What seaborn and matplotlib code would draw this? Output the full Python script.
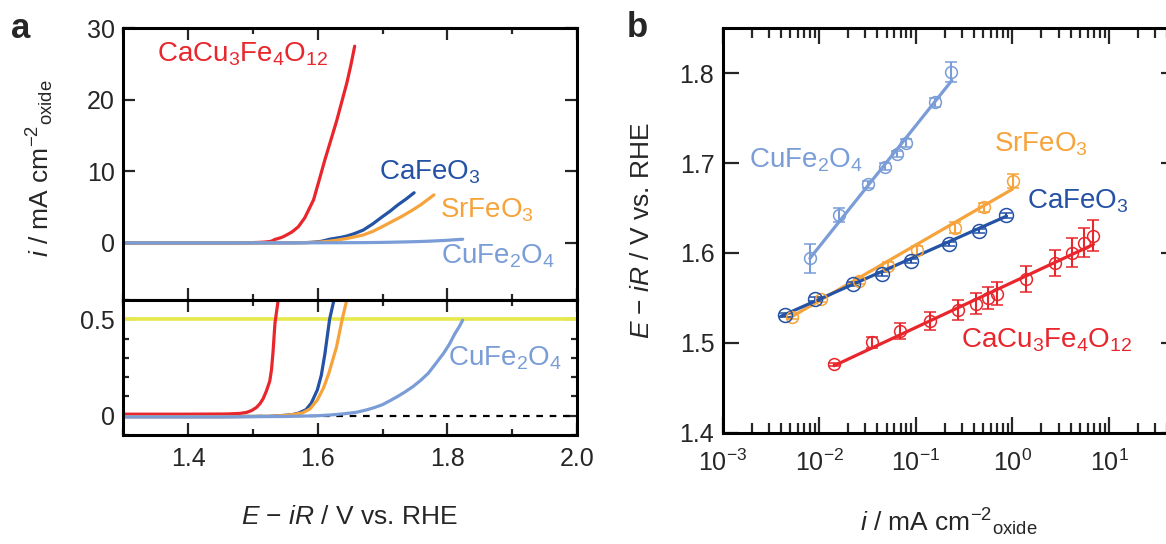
import numpy as np
import pandas as pd
import seaborn as sns
import matplotlib.pyplot as plt
from matplotlib.ticker import MultipleLocator, LogLocator, NullFormatter, FixedLocator, FixedFormatter

# ---------------- Panel a: polarisation curves ----------------
# potential E - iR (V vs. RHE) and current i (mA cm-2 oxide)
ccfo_E = [1.30, 1.40, 1.46, 1.480, 1.490, 1.498, 1.5055, 1.511, 1.516, 1.521, 1.526, 1.5287,
          1.531, 1.534, 1.539, 1.545, 1.550, 1.560, 1.570, 1.580, 1.5935, 1.602, 1.611, 1.620,
          1.629, 1.637, 1.645, 1.651, 1.657]
ccfo_i = [0.008, 0.008, 0.009, 0.012, 0.017, 0.027, 0.043, 0.063, 0.09, 0.13, 0.18, 0.24,
          0.33, 0.48, 0.6, 0.78, 1.0, 1.5, 2.24, 3.5, 6.0, 8.7, 11.6, 14.3,
          17.0, 19.7, 22.4, 24.8, 27.5]

cfo_E = [1.30, 1.45, 1.53, 1.560, 1.570, 1.5818, 1.590, 1.5994, 1.6055, 1.611, 1.6183, 1.625,
         1.635, 1.645, 1.657, 1.6702, 1.685, 1.6997, 1.712, 1.7233, 1.736, 1.7487]
cfo_i = [-0.005, -0.005, -0.003, 0.005, 0.013, 0.031, 0.065, 0.134, 0.21, 0.32, 0.5, 0.6,
         0.75, 0.95, 1.3, 1.78, 2.65, 3.65, 4.45, 5.28, 6.1, 7.0]

sfo_E = [1.30, 1.45, 1.53, 1.555, 1.5759, 1.588, 1.5994, 1.609, 1.6171, 1.629, 1.6377, 1.6448,
         1.655, 1.6702, 1.685, 1.6997, 1.714, 1.7291, 1.744, 1.7587, 1.7793]
sfo_i = [-0.005, -0.005, -0.003, 0.003, 0.014, 0.035, 0.082, 0.145, 0.22, 0.357, 0.5, 0.6,
         0.8, 1.09, 1.6, 2.26, 2.95, 3.66, 4.45, 5.3, 6.7]

cufo_E = [1.30, 1.45, 1.55, 1.60, 1.62, 1.6407, 1.66, 1.6761, 1.688, 1.6997, 1.711, 1.7233,
          1.735, 1.7469, 1.759, 1.7705, 1.782, 1.794, 1.803, 1.8117, 1.818, 1.8236]
cufo_i = [-0.006, -0.006, -0.004, 0.0, 0.004, 0.01, 0.018, 0.031, 0.043, 0.057, 0.077, 0.10,
          0.124, 0.151, 0.184, 0.22, 0.27, 0.323, 0.37, 0.426, 0.46, 0.495]

# ---------------- Panel b: Tafel plots ----------------
cufo_ti = [0.0080, 0.0160, 0.0318, 0.0477, 0.0638, 0.0782, 0.158, 0.232]
cufo_tE = [1.5940, 1.6420, 1.6762, 1.6960, 1.7103, 1.7223, 1.7675, 1.8017]
cufo_err = [0.016, 0.008, 0.0035, 0.004, 0.003, 0.004, 0.005, 0.011]
cufo_fit_i = [0.0080, 0.236]
cufo_fit_E = [1.594, 1.792]

sfo_ti = [0.00522, 0.0104, 0.0260, 0.0512, 0.102, 0.256, 0.506, 1.007]
sfo_tE = [1.5292, 1.5483, 1.5687, 1.5857, 1.6032, 1.6281, 1.6511, 1.6798]
sfo_err = [0.003, 0.003, 0.003, 0.004, 0.005, 0.006, 0.005, 0.008]
sfo_fit_i = [0.0048, 1.0]
sfo_fit_E = [1.527, 1.671]

cfo_ti = [0.00441, 0.00902, 0.0225, 0.0443, 0.0895, 0.220, 0.446, 0.867]
cfo_tE = [1.5311, 1.5488, 1.5654, 1.5765, 1.5912, 1.6097, 1.6245, 1.6419]
cfo_err = [0.002, 0.002, 0.002, 0.002, 0.002, 0.002, 0.002, 0.003]
cfo_fit_i = [0.0040, 0.87]
cfo_fit_E = [1.5295, 1.641]

ccfo_ti = [0.0142, 0.0355, 0.069, 0.140, 0.275, 0.415, 0.555, 0.686, 1.38, 2.76, 4.15, 5.45, 6.83]
ccfo_tE = [1.4761, 1.5008, 1.5130, 1.5240, 1.5366, 1.5437, 1.5500, 1.5547, 1.5710, 1.5889,
           1.6004, 1.6115, 1.6194]
ccfo_err = [0.002, 0.006, 0.009, 0.010, 0.011, 0.012, 0.012, 0.013, 0.014, 0.014, 0.016, 0.016, 0.017]
ccfo_fit_i = [0.0142, 6.9]
ccfo_fit_E = [1.4745, 1.6095]

RED = '#E8262C'
BLUE = '#2452A5'
ORANGE = '#F6A33B'
LBLUE = '#7A9DD7'
YELLOW = '#E6E84C'

sns.set_theme(style='ticks')
plt.rcParams['font.family'] = ['Liberation Sans', 'DejaVu Sans']
plt.rcParams['mathtext.fontset'] = 'custom'
plt.rcParams['mathtext.rm'] = 'Liberation Sans'
plt.rcParams['mathtext.it'] = 'Liberation Sans:italic'
plt.rcParams['mathtext.bf'] = 'Liberation Sans:bold'
plt.rcParams['axes.linewidth'] = 2.2
plt.rcParams['axes.edgecolor'] = 'black'

W, H = 1166, 544
fig = plt.figure(figsize=(W / 100, H / 100), dpi=100)


def box(l, r, t, b):
    return [l / W, 1 - b / H, (r - l) / W, (b - t) / H]


ax_up = fig.add_axes(box(123.3, 577, 28.3, 300))
ax_lo = fig.add_axes(box(123.3, 577, 300, 435))
ax_b = fig.add_axes(box(722.7, 1176.5, 28.3, 432.7))

curves = [(ccfo_E, ccfo_i, RED), (cfo_E, cfo_i, BLUE), (sfo_E, sfo_i, ORANGE), (cufo_E, cufo_i, LBLUE)]

# upper panel
for E, i, c in curves:
    sns.lineplot(x=E, y=i, ax=ax_up, color=c, lw=2.3, sort=False, estimator=None)
ax_up.set_xlim(1.3, 2.0)
ax_up.set_ylim(-8, 30)
ax_up.yaxis.set_major_locator(MultipleLocator(10))
ax_up.xaxis.set_major_locator(MultipleLocator(0.2))
ax_up.xaxis.set_minor_locator(MultipleLocator(0.1))
ax_up.tick_params(axis='x', labelbottom=False)

# lower panel (zoom of the onset)
ax_lo.axhline(0.5, color=YELLOW, lw=2.6)
ax_lo.axhline(0, color='black', lw=1.6, ls=(0, (3, 3)))
for E, i, c in curves:
    sns.lineplot(x=E, y=i, ax=ax_lo, color=c, lw=2.3, sort=False, estimator=None)
ax_lo.set_xlim(1.3, 2.0)
ax_lo.set_ylim(-0.1, 0.6)
ax_lo.yaxis.set_major_locator(FixedLocator([0, 0.5]))
ax_lo.yaxis.set_major_formatter(FixedFormatter(['0', '0.5']))
ax_lo.yaxis.set_minor_locator(MultipleLocator(0.1))
ax_lo.xaxis.set_major_locator(MultipleLocator(0.2))
ax_lo.xaxis.set_minor_locator(MultipleLocator(0.1))

for ax in (ax_up, ax_lo):
    ax.tick_params(which='both', direction='in', top=True, right=True, labelsize=18, width=1.6)
    ax.tick_params(which='major', length=8.5)
    ax.tick_params(which='minor', length=4.5)
    ax.tick_params(axis='y', pad=6)
    ax.tick_params(axis='x', pad=9)
    ax.set_xlabel('')
    ax.set_ylabel('')

ax_up.set_ylabel(r'$i$ / mA cm$^{-2}{}_{\mathrm{oxide}}$', fontsize=19)
ax_up.yaxis.set_label_coords(-0.148, 0.486)

fig.text(350 / W, 1 - 517 / H, r'$E$ $-$ $iR$ / V vs. RHE', fontsize=19, ha='center', va='center')

# panel a labels
fig.text(157 / W, 1 - 61.7 / H, r'CaCu$_3$Fe$_4$O$_{12}$', color=RED, fontsize=20)
fig.text(379 / W, 1 - 180 / H, r'CaFeO$_3$', color=BLUE, fontsize=20)
fig.text(440 / W, 1 - 218 / H, r'SrFeO$_3$', color=ORANGE, fontsize=20)
fig.text(441 / W, 1 - 263.5 / H, r'CuFe$_2$O$_4$', color=LBLUE, fontsize=20)
fig.text(448 / W, 1 - 366 / H, r'CuFe$_2$O$_4$', color=LBLUE, fontsize=20)

# ---------------- panel b ----------------
ax_b.set_xscale('log')
tafel = [(cufo_ti, cufo_tE, cufo_err, cufo_fit_i, cufo_fit_E, LBLUE, 8.5),
         (sfo_ti, sfo_tE, sfo_err, sfo_fit_i, sfo_fit_E, ORANGE, 8.5),
         (cfo_ti, cfo_tE, cfo_err, cfo_fit_i, cfo_fit_E, BLUE, 10),
         (ccfo_ti, ccfo_tE, ccfo_err, ccfo_fit_i, ccfo_fit_E, RED, 8.5)]
for ti, tE, err, fi, fE, c, ms in tafel:
    ax_b.errorbar(ti, tE, yerr=err, fmt='o', mfc='none', mec=c, mew=1.1, ms=ms,
                  ecolor=c, elinewidth=1.5, capsize=4.5, capthick=1.5)
    sns.lineplot(x=fi, y=fE, ax=ax_b, color=c, lw=2.3, sort=False, estimator=None)

ax_b.set_xlim(1e-3, 50)
ax_b.set_ylim(1.4, 1.85)
ax_b.yaxis.set_major_locator(MultipleLocator(0.1))
ax_b.xaxis.set_major_locator(LogLocator(base=10, numticks=10))
ax_b.xaxis.set_minor_locator(LogLocator(base=10, subs=np.arange(2, 10), numticks=20))
ax_b.xaxis.set_minor_formatter(NullFormatter())
ax_b.tick_params(which='both', direction='in', top=True, right=True, labelsize=18, width=1.6)
ax_b.tick_params(which='major', length=11.5)
ax_b.tick_params(which='minor', length=7)
ax_b.tick_params(axis='y', pad=6)
ax_b.tick_params(axis='x', pad=12)
ax_b.set_xlabel('')
ax_b.set_ylabel(r'$E$ $-$ $iR$ / V vs. RHE', fontsize=19)
ax_b.yaxis.set_label_coords(-0.151, 0.5)

fig.text(949 / W, 1 - 522 / H, r'$i$ / mA cm$^{-2}{}_{\mathrm{oxide}}$', fontsize=19, ha='center', va='center')

fig.text(749 / W, 1 - 168 / H, r'CuFe$_2$O$_4$', color=LBLUE, fontsize=20)
fig.text(994 / W, 1 - 151.7 / H, r'SrFeO$_3$', color=ORANGE, fontsize=20)
fig.text(1027 / W, 1 - 208.3 / H, r'CaFeO$_3$', color=BLUE, fontsize=20)
fig.text(961 / W, 1 - 347.5 / H, r'CaCu$_3$Fe$_4$O$_{12}$', color=RED, fontsize=20)

fig.text(11 / W, 1 - 38 / H, 'a', fontsize=25, fontweight='bold', va='baseline')
fig.text(627 / W, 1 - 37 / H, 'b', fontsize=25, fontweight='bold', va='baseline')

fig.savefig('out.png', dpi=100)
